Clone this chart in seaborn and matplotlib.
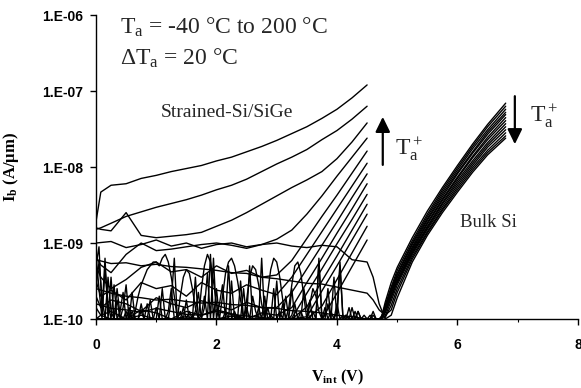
import numpy as np
import pandas as pd
import matplotlib
matplotlib.use('Agg')
import matplotlib.pyplot as plt
from matplotlib.ticker import FuncFormatter, NullLocator
import seaborn as sns

# ---- data (log10 of Ib in A/um) ----
temps = [200, 180, 160, 140, 120, 100, 80, 60, 40, 20, 0, -20, -40]

# Strained-Si/SiGe, sampled on a common Vint grid
v_ssi = [0.0, 0.08, 0.25, 0.5, 0.75, 1.0, 1.25, 1.5, 1.75, 2.0,
         2.25, 2.5, 2.75, 3.0, 3.25, 3.5, 3.75, 4.0, 4.25, 4.5]
ssi_200 = [-8.72, -8.33, -8.24, -8.22, -8.15, -8.11, -8.06, -8.02, -7.98, -7.92,
           -7.87, -7.80, -7.73, -7.65, -7.56, -7.47, -7.36, -7.24, -7.09, -6.92]
ssi_180 = [-8.82, -8.80, -8.74, -8.65, -8.59, -8.53, -8.48, -8.43, -8.37, -8.30,
           -8.24, -8.16, -8.06, -7.96, -7.87, -7.77, -7.64, -7.52, -7.37, -7.20]
ssi_160 = [-8.80, -8.82, -8.84, -8.60, -8.90, -8.93, -8.91, -8.89, -8.86, -8.78,
           -8.70, -8.60, -8.49, -8.38, -8.27, -8.17, -8.06, -7.89, -7.67, -7.42]
ssi_140 = [-9.18, -9.29, -9.39, -9.15, -9.00, -9.10, -9.08, -9.05, -9.02, -9.00,
           -9.03, -9.07, -9.02, -8.95, -8.83, -8.62, -8.38, -8.12, -7.87, -7.62]
ssi_120 = [-9.30, -9.45, -9.60, -9.48, -9.32, -9.25, -9.38, -9.35, -9.45, -9.30,
           -9.40, -9.36, -9.45, -9.42, -9.23, -8.94, -8.65, -8.37, -8.08, -7.79]
ssi_100 = [-9.50, -9.70, -9.62, -9.75, -9.52, -9.60, -9.56, -9.70, -9.52, -9.62,
           -9.66, -9.55, -9.62, -9.68, -9.45, -9.15, -8.85, -8.55, -8.25, -7.95]
ssi_80 = [-9.70, -9.85, -9.75, -9.80, -9.90, -9.72, -9.80, -9.85, -9.76, -9.82,
          -9.88, -9.78, -9.85, -9.85, -9.65, -9.34, -9.03, -8.72, -8.40, -8.09]
ssi_60 = [-9.85, -9.95, -9.90, -10.0, -9.88, -9.92, -10.0, -9.90, -9.95, -9.88,
          -9.93, -10.0, -9.92, -9.95, -9.85, -9.52, -9.20, -8.87, -8.55, -8.22]
ssi_40 = [-10.0, -9.95, -10.0, -10.0, -9.95, -10.0, -10.0, -9.97, -10.0, -10.0,
          -9.96, -10.0, -10.0, -10.0, -9.99, -9.66, -9.34, -9.01, -8.69, -8.36]
ssi_20 = [-10.0, -10.0, -10.0, -10.0, -10.0, -10.0, -10.0, -10.0, -10.0, -10.0,
          -10.0, -10.0, -10.0, -10.0, -10.0, -9.84, -9.50, -9.17, -8.83, -8.49]
ssi_0 = [-10.0, -10.0, -10.0, -10.0, -10.0, -10.0, -10.0, -10.0, -10.0, -10.0,
         -10.0, -10.0, -10.0, -10.0, -10.0, -9.97, -9.63, -9.30, -8.96, -8.62]
ssi_m20 = [-10.0, -10.0, -10.0, -10.0, -10.0, -10.0, -10.0, -10.0, -10.0, -10.0,
           -10.0, -10.0, -10.0, -10.0, -10.0, -10.0, -9.83, -9.48, -9.13, -8.78]
ssi_m40 = [-10.0, -10.0, -10.0, -10.0, -10.0, -10.0, -10.0, -10.0, -10.0, -10.0,
           -10.0, -10.0, -10.0, -10.0, -10.0, -10.0, -10.0, -9.66, -9.31, -8.96]
ssi_curves = [ssi_200, ssi_180, ssi_160, ssi_140, ssi_120, ssi_100, ssi_80,
              ssi_60, ssi_40, ssi_20, ssi_0, ssi_m20, ssi_m40]

# Bulk Si: low-bias leakage (hot curves only) and the turn-on branch
v_bulk_lo = [0.0, 0.25, 0.5, 0.75, 1.0, 1.25, 1.5, 1.75, 2.0, 2.25,
             2.5, 2.75, 3.0, 3.25, 3.5, 3.75, 4.0, 4.25, 4.5]
bulk_lo_200 = [-9.00, -8.98, -9.06, -9.02, -8.96, -9.04, -9.00, -9.07, -9.02, -9.00,
               -9.05, -9.02, -9.00, -9.04, -9.06, -9.03, -9.05, -9.22, -9.25]
bulk_lo_180 = [-9.22, -9.27, -9.26, -9.30, -9.28, -9.31, -9.32, -9.34, -9.36, -9.39,
               -9.40, -9.45, -9.47, -9.50, -9.53, -9.54, -9.58, -9.62, -9.66]
bulk_lo_160 = [-9.60, -9.66, -9.70, -9.72, -9.75, -9.74, -9.77, -9.79, -9.78, -9.81,
               -9.82, -9.85, -9.86, -9.89, -9.90, -9.92, -9.95, -9.97, -10.0]
bulk_lo_140 = [-9.80, -9.86, -9.88, -9.91, -9.86, -9.90, -9.94, -9.95, -9.90, -9.94,
               -9.96, -9.98, -10.0, -10.0, -10.0, -10.0, -10.0, -10.0, -10.0]
bulk_lo = {200: bulk_lo_200, 180: bulk_lo_180, 160: bulk_lo_160, 140: bulk_lo_140}

v_bulk_hi = [4.6, 4.7, 4.8, 4.9, 5.0, 5.25, 5.5, 5.75, 6.0, 6.25, 6.5, 6.8]
bulk_200 = [-9.45, -9.80, -10.0, -9.95, -9.72, -9.25, -8.90, -8.60, -8.33, -8.07, -7.84, -7.62]
bulk_180 = [-9.75, -9.88, -9.95, -9.88, -9.65, -9.21, -8.87, -8.57, -8.30, -8.04, -7.81, -7.59]
bulk_160 = [-10.0, -10.0, -9.98, -9.82, -9.60, -9.18, -8.85, -8.55, -8.27, -8.01, -7.78, -7.55]
bulk_140 = [-10.0, -10.0, -9.96, -9.76, -9.55, -9.15, -8.82, -8.52, -8.24, -7.98, -7.74, -7.51]
bulk_120 = [-10.2, -10.0, -9.90, -9.62, -9.52, -9.13, -8.80, -8.49, -8.21, -7.95, -7.71, -7.47]
bulk_100 = [-10.2, -10.03, -9.92, -9.72, -9.51, -9.11, -8.78, -8.47, -8.18, -7.92, -7.68, -7.43]
bulk_80 = [-10.25, -10.04, -9.90, -9.70, -9.49, -9.09, -8.75, -8.44, -8.15, -7.88, -7.64, -7.39]
bulk_60 = [-10.25, -10.05, -9.88, -9.67, -9.46, -9.07, -8.73, -8.42, -8.13, -7.86, -7.61, -7.35]
bulk_40 = [-10.3, -10.08, -9.85, -9.62, -9.45, -9.05, -8.70, -8.39, -8.09, -7.82, -7.57, -7.31]
bulk_20 = [-10.3, -10.05, -9.86, -9.64, -9.42, -9.02, -8.68, -8.36, -8.07, -7.80, -7.54, -7.28]
bulk_0 = [-10.35, -10.08, -9.82, -9.60, -9.40, -9.00, -8.65, -8.33, -8.04, -7.76, -7.51, -7.24]
bulk_m20 = [-10.4, -10.12, -9.83, -9.58, -9.36, -8.97, -8.62, -8.30, -8.01, -7.73, -7.47, -7.20]
bulk_m40 = [-10.4, -10.1, -9.78, -9.52, -9.32, -8.93, -8.58, -8.27, -7.98, -7.70, -7.44, -7.16]
bulk_curves = [bulk_200, bulk_180, bulk_160, bulk_140, bulk_120, bulk_100, bulk_80,
               bulk_60, bulk_40, bulk_20, bulk_0, bulk_m20, bulk_m40]

# noise floor of the cold curves, sampled every 0.05 V from 0 V
noise_step = 0.05
noise_a = [-9.30, -9.05, -9.90, -9.20, -10.0, -9.45, -10.0, -9.75, -10.0, -9.85,
           -9.55, -10.0, -9.90, -10.0, -10.0, -9.80, -10.0, -10.0, -9.75, -10.0,
           -10.0, -9.70, -10.0, -10.0, -9.90, -9.60, -10.0, -10.0, -10.0, -9.85,
           -10.0, -9.90, -10.0, -9.45, -10.0, -9.95, -9.70, -10.0, -9.15, -10.0,
           -9.60, -10.0, -10.0, -9.90, -10.0, -9.50, -10.0, -9.95, -10.0, -9.60,
           -10.0, -9.30, -10.0, -10.0, -9.85, -10.0, -9.70, -10.0, -9.95, -10.0,
           -9.50, -10.0, -9.80, -10.0, -10.0, -9.60, -10.0, -10.0, -9.90, -10.0,
           -10.0, -9.75, -10.0, -10.0, -9.25, -10.0, -10.0, -9.80, -10.0, -9.45,
           -10.0, -9.30, -10.0, -9.95, -10.0, -10.0, -9.90, -10.0, -10.0, -10.0,
           -10.0, -9.95, -10.0, -10.0, -10.0]
noise_b = [-9.15, -9.60, -10.0, -9.35, -9.80, -10.0, -9.55, -10.0, -9.90, -9.65,
           -10.0, -9.85, -10.0, -9.90, -9.70, -9.55, -9.45, -9.35, -9.30, -9.25,
           -9.25, -9.30, -9.20, -9.15, -9.25, -9.45, -9.70, -10.0, -9.70, -9.45,
           -9.35, -9.40, -9.60, -9.85, -10.0, -9.60, -9.30, -9.15, -9.25, -9.50,
           -9.80, -10.0, -9.70, -9.40, -9.25, -9.20, -9.30, -9.50, -9.75, -10.0,
           -9.75, -9.45, -9.30, -9.35, -9.55, -9.80, -10.0, -9.65, -9.35, -9.20,
           -9.25, -9.45, -9.75, -10.0, -9.85, -9.55, -9.30, -9.25, -9.40, -9.70,
           -10.0, -9.80, -9.60, -9.70, -9.90, -10.0, -9.85, -10.0, -9.90, -10.0,
           -9.80, -10.0, -9.95, -10.0, -9.85, -10.0, -10.0, -9.90, -10.0, -10.0,
           -10.0, -10.0, -9.90, -10.0, -10.0]
noise_c = [-9.60, -9.25, -9.70, -10.0, -9.45, -9.90, -10.0, -9.60, -9.95, -10.0,
           -9.90, -10.0, -9.65, -10.0, -10.0, -9.90, -10.0, -9.80, -10.0, -10.0,
           -9.85, -10.0, -9.60, -10.0, -10.0, -9.75, -9.20, -10.0, -9.90, -10.0,
           -9.75, -10.0, -10.0, -9.90, -9.65, -10.0, -9.85, -9.40, -10.0, -9.20,
           -10.0, -9.80, -9.55, -10.0, -9.30, -10.0, -9.90, -10.0, -9.50, -10.0,
           -9.85, -10.0, -9.70, -9.90, -10.0, -9.20, -10.0, -9.85, -10.0, -9.60,
           -10.0, -9.90, -10.0, -9.70, -10.0, -9.95, -9.80, -10.0, -10.0, -9.60,
           -9.85, -10.0, -9.90, -10.0, -9.20, -10.0, -9.95, -9.60, -10.0, -10.0,
           -9.90, -9.25, -10.0, -9.95, -10.0, -9.85, -10.0, -9.90, -10.0, -9.95,
           -10.0, -10.0, -9.95, -10.0, -10.0]
noise_traces = [noise_a, noise_b, noise_c]

# ---- long table for seaborn ----
frames = []
for t, ys in zip(temps, ssi_curves):
    frames.append(pd.DataFrame({'V': v_ssi, 'logI': ys, 'curve': f'ssi{t}'}))
for t, ys in zip(temps, bulk_curves):
    xs = list(v_bulk_hi)
    vals = list(ys)
    if t in bulk_lo:
        xs = v_bulk_lo + xs
        vals = bulk_lo[t] + vals
    frames.append(pd.DataFrame({'V': xs, 'logI': vals, 'curve': f'bulk{t}'}))
for i, ys in enumerate(noise_traces):
    frames.append(pd.DataFrame({'V': np.arange(len(ys)) * noise_step,
                                'logI': ys, 'curve': f'noise{i}'}))
df = pd.concat(frames, ignore_index=True)
df['I'] = 10.0 ** df['logI']

# ---- plot ----
sns.set_style('ticks')
plt.rcParams['font.family'] = ['Liberation Serif', 'DejaVu Serif']
plt.rcParams['mathtext.default'] = 'regular'

fig = plt.figure(figsize=(5.81, 3.88), dpi=100)
ax = fig.add_axes([0.1652, 0.1778, 0.8296, 0.7835])

sns.lineplot(data=df, x='V', y='I', units='curve', estimator=None, sort=False,
             color='black', linewidth=1.0, legend=False, ax=ax)

ax.set_yscale('log')
ax.set_ylim(1e-10, 1e-6)
ax.set_xlim(0, 8)
ax.set_yticks([1e-10, 1e-9, 1e-8, 1e-7, 1e-6])
ax.yaxis.set_minor_locator(NullLocator())
ax.yaxis.set_major_formatter(FuncFormatter(lambda v, p: '1.E-%02d' % round(-np.log10(v))))
ax.set_xticks([0, 2, 4, 6, 8])
ax.set_xticks([1, 3, 5, 7], minor=True)
ax.tick_params(axis='both', which='major', length=4, width=1, color='black',
               labelsize=10, labelcolor='black', labelfontfamily='Liberation Sans')
ax.tick_params(axis='y', pad=5)
ax.tick_params(axis='x', pad=10)
ax.tick_params(axis='x', which='minor', length=2.5, width=0.8, color='black')
for lab in ax.get_xticklabels() + ax.get_yticklabels():
    lab.set_fontweight('bold')

sns.despine(ax=ax)
for s in ['left', 'bottom']:
    ax.spines[s].set_color('black')
    ax.spines[s].set_linewidth(1.0)

ax.set_xlabel(r'V$_{int}$ (V)', fontsize=11.5, fontweight='bold', color='black')
ax.xaxis.set_label_coords(0.5, -0.16)
ax.set_ylabel(r'I$_b$ (A/μm)', fontsize=12, fontweight='bold', color='black')
ax.yaxis.set_label_coords(-0.155, 0.5)

ax.text(0.05, 0.96, r'T$_a$ = -40 °C to 200 °C', transform=ax.transAxes,
        fontsize=17, va='center', ha='left')
ax.text(0.05, 0.859, r'ΔT$_a$ = 20 °C', transform=ax.transAxes,
        fontsize=17, va='center', ha='left')
ax.text(0.135, 0.678, 'Strained-Si/SiGe', transform=ax.transAxes,
        fontsize=14, va='center', ha='left')
ax.text(0.755, 0.319, 'Bulk Si', transform=ax.transAxes,
        fontsize=13.5, va='center', ha='left')

arrow = dict(arrowstyle='-|>,head_length=0.45,head_width=0.22', color='black',
             lw=1.6, mutation_scale=20, shrinkA=0, shrinkB=0)
ax.annotate('', xy=(0.595, 0.665), xytext=(0.595, 0.507),
            xycoords='axes fraction', arrowprops=arrow)
ax.annotate('', xy=(0.869, 0.575), xytext=(0.869, 0.733),
            xycoords='axes fraction', arrowprops=arrow)
ax.text(0.62, 0.5625, r'T$_a^+$', transform=ax.transAxes, fontsize=17,
        va='center', ha='left')
ax.text(0.90, 0.671, r'T$_a^+$', transform=ax.transAxes, fontsize=17,
        va='center', ha='left')

fig.savefig('out.png', dpi=100)
